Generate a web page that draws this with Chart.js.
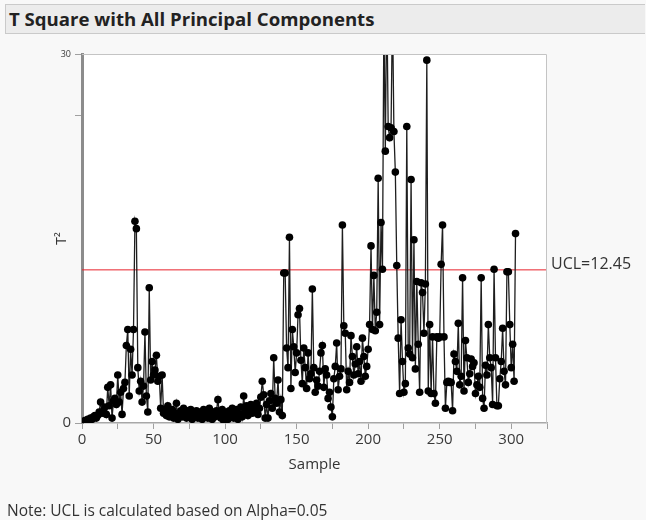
<!DOCTYPE html>
<html>
<head>
<meta charset="utf-8">
<script src="https://cdn.jsdelivr.net/npm/chart.js@4"></script>
<style>
  body { margin: 0; background: #f8f8f8; width: 646px; height: 520px; overflow: hidden; font-family: "Open Sans", sans-serif; }
  #titleBar {
    position: absolute; left: 5px; top: 4px; width: 640px; height: 30px;
    background: #ececec; border: 1px solid #cacaca; border-right: none;
    font-weight: bold; font-size: 18.6px; line-height: 28px; color: #222;
    padding-left: 3px; box-sizing: border-box;
  }
  #note { position: absolute; left: 7px; top: 499px; font-size: 15.5px; color: #333; }
  #chartBox { position: absolute; left: 0; top: 0; width: 646px; height: 520px; }
</style>
</head>
<body>
<div id="titleBar">T Square with All Principal Components</div>
<div id="chartBox"><canvas id="tsqChart" width="646" height="520"></canvas></div>
<div id="note">Note: UCL is calculated based on Alpha=0.05</div>
<script>
// T² value for each sample, in order (sample 1 first)
const tSquare = [
    0.1, 0.2, 0.2, 0.3, 0.2, 0.4, 0.3, 0.5, 0.6, 0.4,
    0.6, 0.9, 1.7, 0.8, 1.0, 1.3, 0.7, 2.9, 1.4, 3.1,
    0.4, 1.8, 2.0, 1.5, 3.9, 1.7, 2.5, 0.7, 2.8, 3.3,
    6.3, 7.6, 2.2, 6.0, 3.9, 7.6, 16.4, 15.8, 4.5, 2.6,
    3.4, 1.7, 3.0, 7.4, 2.2, 0.9, 11.0, 3.5, 5.0, 3.9,
    4.3, 5.5, 3.4, 3.8, 1.2, 3.9, 0.8, 1.1, 0.6, 1.4,
    0.5, 0.9, 1.1, 0.4, 0.8, 1.6, 0.3, 0.6, 1.0, 0.5,
    1.2, 0.7, 0.4, 1.0, 0.6, 1.1, 0.3, 0.8, 0.5, 1.0,
    0.4, 0.9, 0.6, 0.3, 1.1, 0.5, 0.8, 0.4, 1.2, 0.6,
    0.3, 0.9, 0.5, 1.0, 1.9, 0.7, 0.4, 1.1, 0.2, 0.6,
    0.9, 0.3, 1.0, 0.5, 1.2, 0.4, 0.8, 1.1, 0.3, 0.7,
    1.3, 0.5, 2.2, 0.9, 1.4, 0.6, 1.2, 1.5, 0.8, 1.3,
    1.0, 1.6, 0.7, 1.2, 2.1, 3.4, 2.3, 0.4, 1.5, 0.4,
    1.8, 2.4, 1.2, 5.3, 2.0, 1.6, 3.5, 0.9, 1.9, 0.6,
    12.2, 12.2, 6.1, 4.5, 15.1, 2.8, 7.6, 6.2, 4.1, 5.7,
    8.8, 9.3, 5.1, 3.2, 6.1, 4.5, 2.8, 5.7, 3.6, 4.0,
    10.9, 4.5, 2.5, 3.5, 3.0, 4.2, 5.7, 6.3, 2.9, 4.4,
    3.9, 2.0, 2.5, 1.3, 0.5, 3.6, 4.6, 6.5, 2.7, 3.8,
    4.4, 16.1, 7.9, 7.3, 2.7, 4.2, 3.3, 7.1, 5.4, 3.9,
    4.8, 6.2, 4.0, 5.0, 3.4, 6.9, 5.4, 3.8, 4.6, 6.0,
    8.0, 14.4, 7.6, 12.0, 7.5, 9.0, 19.9, 8.0, 16.3, 12.5,
    33, 22.1, 35, 24.1, 23.2, 24.0, 34, 23.7, 20.4, 12.8,
    6.9, 2.4, 8.4, 5.0, 2.5, 3.2, 24.1, 6.1, 5.6, 19.8,
    5.3, 14.9, 4.4, 11.5, 6.4, 2.5, 11.4, 10.6, 7.3, 11.3,
    29.5, 2.6, 8.0, 2.4, 7.0, 2.4, 1.6, 7.0, 6.9, 7.0,
    12.9, 16.1, 7.0, 1.2, 3.3, 3.4, 3.3, 3.3, 1.0, 5.6,
    5.0, 4.2, 8.1, 3.1, 3.8, 11.8, 2.6, 6.7, 5.3, 3.3,
    4.0, 5.2, 4.6, 4.9, 2.4, 3.1, 3.8, 2.9, 11.8, 2.0,
    1.2, 4.7, 3.9, 8.0, 5.3, 4.5, 1.5, 12.5, 5.3, 1.4,
    1.4, 3.6, 5.0, 7.7, 4.2, 3.1, 12.3, 12.3, 8.0, 4.5,
    6.4, 3.4, 15.4
];

const ucl = 12.45;
const xRange = [0, 325];
const yRange = [0, 30];
const yTickValues = [0, 25, 30];
const yTickLabels = ['0', '', '30'];

const FONT = '"Open Sans", sans-serif';

const points = tSquare.map((v, i) => ({ x: i + 1, y: v }));

// white plot area + light frame on top/right + UCL text
const plotFrame = {
    id: 'plotFrame',
    beforeDraw(chart) {
        const a = chart.chartArea;
        const c = chart.ctx;
        c.save();
        c.fillStyle = '#ffffff';
        c.fillRect(a.left, a.top, a.right - a.left, a.bottom - a.top);
        c.restore();
    },
    afterDraw(chart) {
        const a = chart.chartArea;
        const c = chart.ctx;
        c.save();
        c.strokeStyle = '#c4c4c4';
        c.lineWidth = 1;
        c.beginPath();
        c.moveTo(a.left, a.top + 0.5);
        c.lineTo(a.right - 0.5, a.top + 0.5);
        c.lineTo(a.right - 0.5, a.bottom);
        c.stroke();
        const yPix = chart.scales.y.getPixelForValue(ucl);
        c.fillStyle = '#333';
        c.font = '16px ' + FONT;
        c.textBaseline = 'middle';
        c.fillText('UCL=' + ucl, a.right + 4, yPix - 5);
        c.restore();
    }
};

new Chart(document.getElementById('tsqChart'), {
    type: 'line',
    data: {
        datasets: [{
            label: 'T²',
            data: points,
            borderColor: '#1e1e1e',
            borderWidth: 1.3,
            pointRadius: 3.8,
            pointBackgroundColor: '#000',
            pointBorderColor: '#000',
            pointBorderWidth: 0,
            tension: 0
        }, {
            label: 'UCL',
            data: [{ x: xRange[0], y: ucl }, { x: xRange[1], y: ucl }],
            borderColor: '#e8222c',
            borderWidth: 1,
            pointRadius: 0
        }]
    },
    options: {
        responsive: false,
        animation: false,
        layout: { padding: { left: 50, top: 54, right: 99, bottom: 42 } },
        plugins: { legend: { display: false }, tooltip: { enabled: false } },
        scales: {
            x: {
                type: 'linear',
                min: xRange[0],
                max: xRange[1],
                afterFit: s => { s.height = 55; },
                ticks: {
                    stepSize: 25,
                    autoSkip: false,
                    maxRotation: 0,
                    padding: 2,
                    color: '#3a3a3a',
                    font: { size: 15, family: FONT },
                    callback: v => (v % 50 === 0 && v <= 300 ? String(v) : '')
                },
                grid: { drawOnChartArea: false, tickLength: 6, tickColor: '#a0a0a0' },
                border: { color: '#a8a8a8', width: 1.5 },
                title: { display: true, text: 'Sample', color: '#333', font: { size: 15, family: FONT } }
            },
            y: {
                min: yRange[0],
                max: yRange[1],
                afterFit: s => { s.width = 32; },
                afterBuildTicks: s => { s.ticks = yTickValues.map(v => ({ value: v })); },
                ticks: {
                    padding: 4,
                    color: '#3a3a3a',
                    font: ctx => ({ size: ctx.tick && ctx.tick.value === 30 ? 9 : 15, family: FONT }),
                    callback: (v, i) => yTickLabels[i]
                },
                grid: { drawOnChartArea: false, tickLength: 7, tickColor: '#a0a0a0' },
                border: { color: '#8c8c8c', width: 3 },
                title: { display: true, text: 'T²', color: '#333', font: { size: 14, family: FONT } }
            }
        }
    },
    plugins: [plotFrame]
});
</script>
</body>
</html>
